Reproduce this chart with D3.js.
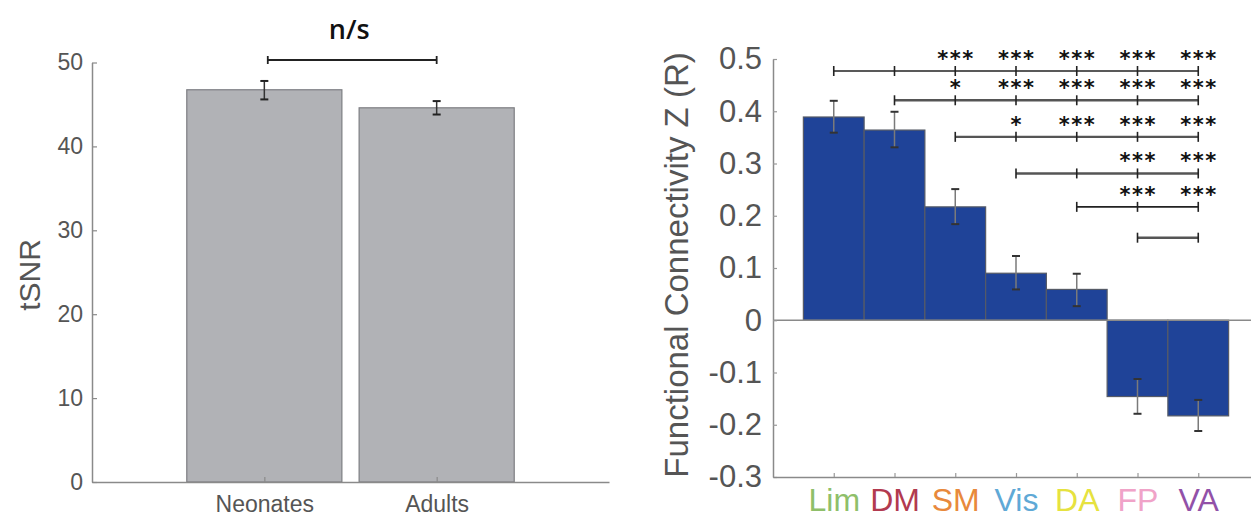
<!DOCTYPE html>
<html>
<head>
<meta charset="utf-8">
<script src="https://cdnjs.cloudflare.com/ajax/libs/d3/7.8.5/d3.min.js"></script>
<style>
  body { margin: 0; background: #fff; }
  svg { display: block; }
</style>
</head>
<body>
<div id="chart"></div>
<script>
// left panel: tSNR
var groups = ['Neonates', 'Adults'];
var tsnrMean = [46.75, 44.6];
var tsnrLow = [45.6, 43.8];
var tsnrHigh = [47.8, 45.4];
var tsnrTicks = [0, 10, 20, 30, 40, 50];

// right panel: functional connectivity
var networks = ['Lim', 'DM', 'SM', 'Vis', 'DA', 'FP', 'VA'];
var networkColors = ['#8fbf6a', '#b23a4f', '#e8893c', '#5fa9d6', '#e6e23f', '#f0a3c8', '#9251a8'];
var fcMean = [0.389, 0.364, 0.217, 0.090, 0.059, -0.146, -0.183];
var fcLow = [0.359, 0.331, 0.184, 0.059, 0.027, -0.179, -0.212];
var fcHigh = [0.420, 0.399, 0.251, 0.123, 0.089, -0.1125, -0.1525];
var fcTicks = [-0.3, -0.2, -0.1, 0, 0.1, 0.2, 0.3, 0.4, 0.5];
var fcTickLabels = ['-0.3', '-0.2', '-0.1', '0', '0.1', '0.2', '0.3', '0.4', '0.5'];

// significance brackets: start network index (all end at VA), height, stars per network
var sigStart = [0, 1, 2, 3, 4, 5];
var sigLevel = [0.477, 0.421, 0.351, 0.281, 0.217, 0.158];
var sigStars = [
    ['', '', '***', '***', '***', '***', '***'],
    ['', '', '*', '***', '***', '***', '***'],
    ['', '', '', '*', '***', '***', '***'],
    ['', '', '', '', '', '***', '***'],
    ['', '', '', '', '', '***', '***'],
    ['', '', '', '', '', '', '']
];

var svg = d3.select('#chart')
    .append('svg')
    .attr('width', 1251)
    .attr('height', 518);

svg.append('rect').attr('width', 1251).attr('height', 518).attr('fill', '#fff');

var font = 'Liberation Sans, Arial, sans-serif';

// ---------- left panel ----------
var xL = d3.scaleLinear().domain([0, 3]).range([92, 609]);
var yL = d3.scaleLinear().domain([0, 50]).range([482, 62.5]);

var left = svg.append('g');

left.selectAll('rect.bar')
    .data(tsnrMean)
    .enter()
    .append('rect')
    .attr('class', 'bar')
    .attr('x', (d, i) => xL(i + 1 - 0.45))
    .attr('width', xL(0.9) - xL(0))
    .attr('y', d => yL(d))
    .attr('height', d => yL(0) - yL(d))
    .attr('fill', '#b1b2b6')
    .attr('stroke', '#7d7e82')
    .attr('stroke-width', 1.2);

var yAxisL = left.append('g')
    .attr('transform', `translate(${xL(0)},0)`)
    .call(d3.axisLeft(yL).tickValues(tsnrTicks).tickSizeInner(-5).tickSizeOuter(0).tickPadding(9));

var xAxisL = left.append('g')
    .attr('transform', `translate(0,${yL(0)})`)
    .call(d3.axisBottom(xL).tickValues([1, 2]).tickFormat((d) => groups[d - 1])
        .tickSizeInner(-5).tickSizeOuter(0).tickPadding(14));

[yAxisL, xAxisL].forEach(function(ax) {
    ax.select('.domain').attr('stroke', '#8a8a8a').attr('stroke-width', 1.5);
    ax.selectAll('.tick line').attr('stroke', '#8a8a8a').attr('stroke-width', 1.2);
    ax.selectAll('.tick text').attr('fill', '#555').attr('font-family', font);
});
yAxisL.selectAll('.tick text').attr('font-size', 23);
xAxisL.selectAll('.tick text').attr('font-size', 23);

left.append('text')
    .attr('transform', 'translate(40,275) rotate(-90)')
    .attr('text-anchor', 'middle')
    .attr('font-family', font)
    .attr('font-size', 30)
    .attr('fill', '#555')
    .text('tSNR');

// error bars
tsnrMean.forEach(function(d, i) {
    var cx = xL(i + 1);
    left.append('line')
        .attr('x1', cx).attr('x2', cx)
        .attr('y1', yL(tsnrLow[i])).attr('y2', yL(tsnrHigh[i]))
        .attr('stroke', '#333').attr('stroke-width', 1.5);
    [tsnrLow[i], tsnrHigh[i]].forEach(function(v) {
        left.append('line')
            .attr('x1', cx - 4).attr('x2', cx + 4)
            .attr('y1', yL(v)).attr('y2', yL(v))
            .attr('stroke', '#222').attr('stroke-width', 2);
    });
});

// n/s bracket
var nsY = 60;
left.append('line')
    .attr('x1', xL(1.02)).attr('x2', xL(2))
    .attr('y1', nsY).attr('y2', nsY)
    .attr('stroke', '#222').attr('stroke-width', 1.8);
[1.02, 2].forEach(function(p) {
    left.append('line')
        .attr('x1', xL(p)).attr('x2', xL(p))
        .attr('y1', nsY - 4).attr('y2', nsY + 4)
        .attr('stroke', '#222').attr('stroke-width', 1.8);
});
left.append('text')
    .attr('x', (xL(1.02) + xL(2)) / 2 - 3)
    .attr('y', 39)
    .attr('text-anchor', 'middle')
    .attr('font-family', 'Open Sans, sans-serif')
    .attr('font-weight', 600)
    .attr('font-size', 27)
    .attr('fill', '#111')
    .text('n/s');

// ---------- right panel ----------
var xR = d3.scaleLinear().domain([0, 8]).range([773, 1259]);
var yR = d3.scaleLinear().domain([-0.3, 0.5]).range([477, 59]);
var right = svg.append('g');

right.selectAll('rect.bar')
    .data(fcMean)
    .enter()
    .append('rect')
    .attr('class', 'bar')
    .attr('x', (d, i) => xR(i + 0.5))
    .attr('width', xR(1) - xR(0))
    .attr('y', d => yR(Math.max(d, 0)))
    .attr('height', d => Math.abs(yR(d) - yR(0)))
    .attr('fill', '#1f4398')
    .attr('stroke', '#555a66')
    .attr('stroke-width', 1.2);

// zero line
right.append('line')
    .attr('x1', xR(0)).attr('x2', xR(8))
    .attr('y1', yR(0)).attr('y2', yR(0))
    .attr('stroke', '#8a8a8a').attr('stroke-width', 1.5);

var yAxisR = right.append('g')
    .attr('transform', `translate(${xR(0)},0)`)
    .call(d3.axisLeft(yR).tickValues(fcTicks).tickFormat((d, i) => fcTickLabels[i])
        .tickSizeInner(-4).tickSizeOuter(0).tickPadding(11));

var xAxisR = right.append('g')
    .attr('transform', `translate(0,${yR(-0.3)})`)
    .call(d3.axisBottom(xR).tickValues(d3.range(1, 8)).tickFormat(d => networks[d - 1])
        .tickSizeInner(-4).tickSizeOuter(0).tickPadding(11.5));

[yAxisR, xAxisR].forEach(function(ax) {
    ax.select('.domain').attr('stroke', '#8a8a8a').attr('stroke-width', 1.5);
    ax.selectAll('.tick line').attr('stroke', '#999').attr('stroke-width', 1.2);
    ax.selectAll('.tick text').attr('font-family', font);
});
yAxisR.selectAll('.tick text').attr('font-size', 31).attr('fill', '#555');
xAxisR.selectAll('.tick text').attr('font-size', 32).attr('fill', (d) => networkColors[d - 1]);

right.append('text')
    .attr('transform', 'translate(688,265) rotate(-90)')
    .attr('text-anchor', 'middle')
    .attr('font-family', font)
    .attr('font-size', 33)
    .attr('fill', '#555')
    .text('Functional Connectivity Z (R)');

// error bars
fcMean.forEach(function(d, i) {
    var cx = xR(i + 1);
    right.append('line')
        .attr('x1', cx).attr('x2', cx)
        .attr('y1', yR(fcLow[i])).attr('y2', yR(fcHigh[i]))
        .attr('stroke', '#7a7a7a').attr('stroke-width', 1.5);
    [fcLow[i], fcHigh[i]].forEach(function(v) {
        right.append('line')
            .attr('x1', cx - 4).attr('x2', cx + 4)
            .attr('y1', yR(v)).attr('y2', yR(v))
            .attr('stroke', '#333').attr('stroke-width', 2);
    });
});

// significance brackets
sigStart.forEach(function(s, r) {
    var ly = yR(sigLevel[r]);
    var dark = (r === 0 || r === 4);
    var col = dark ? '#222' : '#555';
    var sw = dark ? 1.6 : 2.4;
    var row = right.append('g');
    row.append('line')
        .attr('x1', xR(s + 1)).attr('x2', xR(7))
        .attr('y1', ly).attr('y2', ly)
        .attr('stroke', col).attr('stroke-width', sw);
    d3.range(s, 7).forEach(function(j) {
        row.append('line')
            .attr('x1', xR(j + 1)).attr('x2', xR(j + 1))
            .attr('y1', ly - 5).attr('y2', ly + 5)
            .attr('stroke', '#222').attr('stroke-width', 1.6);
    });
    row.selectAll('text')
        .data(sigStars[r])
        .enter()
        .append('text')
        .attr('x', (d, j) => xR(j + 1) + 0.8)
        .attr('y', ly - 5)
        .attr('text-anchor', 'middle')
        .attr('font-family', 'DejaVu Sans, sans-serif')
        .attr('font-weight', 'bold')
        .attr('font-size', 21)
        .attr('letter-spacing', 1.5)
        .attr('fill', '#111')
        .text(d => d);
});
</script>
</body>
</html>
